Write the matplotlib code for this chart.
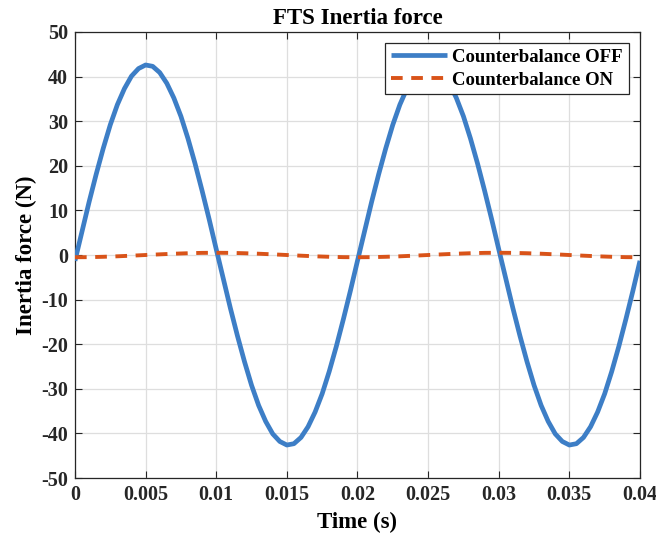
import matplotlib
matplotlib.use("Agg")
import matplotlib.pyplot as plt
import numpy as np

plt.rcParams['font.family'] = ['Liberation Serif', 'DejaVu Serif']
plt.rcParams['font.weight'] = 'bold'
plt.rcParams['axes.unicode_minus'] = False

title = "FTS Inertia force"
xlabel = "Time (s)"
ylabel = "Inertia force (N)"
series_names = ["Counterbalance OFF", "Counterbalance ON"]

# Counterbalance OFF, sampled every 0.0005 s
t_off = [i * 0.0005 for i in range(81)]
f_off = [-1.3, 5.3, 11.9, 18.1, 23.9, 29.2, 33.7, 37.3, 40.1, 41.8,
         42.6, 42.3, 40.9, 38.5, 35.2, 31.1, 26.1, 20.5, 14.4, 8.0,
         1.3, -5.3, -11.9, -18.1, -23.9, -29.2, -33.7, -37.3, -40.1, -41.8,
         -42.6, -42.3, -40.9, -38.5, -35.2, -31.1, -26.1, -20.5, -14.4, -8.0,
         -1.3, 5.3, 11.9, 18.1, 23.9, 29.2, 33.7, 37.3, 40.1, 41.8,
         42.6, 42.3, 40.9, 38.5, 35.2, 31.1, 26.1, 20.5, 14.4, 8.0,
         1.3, -5.3, -11.9, -18.1, -23.9, -29.2, -33.7, -37.3, -40.1, -41.8,
         -42.6, -42.3, -40.9, -38.5, -35.2, -31.1, -26.1, -20.5, -14.4, -8.0,
         -1.3]

# Counterbalance ON, sampled every 0.001 s
t_on = [i * 0.001 for i in range(41)]
f_on = [-0.50, -0.48, -0.40, -0.29, -0.15, 0.00, 0.15, 0.29, 0.40, 0.48,
        0.50, 0.48, 0.40, 0.29, 0.15, 0.00, -0.15, -0.29, -0.40, -0.48,
        -0.50, -0.48, -0.40, -0.29, -0.15, 0.00, 0.15, 0.29, 0.40, 0.48,
        0.50, 0.48, 0.40, 0.29, 0.15, 0.00, -0.15, -0.29, -0.40, -0.48,
        -0.50]

xticks = [0, 0.005, 0.01, 0.015, 0.02, 0.025, 0.03, 0.035, 0.04]
xticklabels = ["0", "0.005", "0.01", "0.015", "0.02", "0.025", "0.03", "0.035", "0.04"]
yticks = [-50, -40, -30, -20, -10, 0, 10, 20, 30, 40, 50]

fig = plt.figure(figsize=(6.56, 5.42), dpi=100)
ax = fig.add_axes([0.1143, 0.118, 0.8613, 0.823])

ax.plot(t_off, f_off, color='#3d7ec6', lw=3.4, label=series_names[0], zorder=3,
        solid_joinstyle='round', solid_capstyle='butt')
ax.plot(t_on, f_on, color='#d95319', lw=2.8, ls=(0, (3, 2.2)), label=series_names[1], zorder=3)

ax.set_xlim(0, 0.04)
ax.set_ylim(-50, 50)
ax.set_xticks(xticks)
ax.set_xticklabels(xticklabels)
ax.set_yticks(yticks)
ax.tick_params(direction='in', top=True, right=True, labelsize=14.5, length=5, width=0.8, color='#262626', pad=5)
for lab in ax.get_xticklabels() + ax.get_yticklabels():
    lab.set_fontweight('bold')
    lab.set_color('#262626')
ax.grid(True, color='#dedede', lw=0.9, zorder=0)
ax.set_axisbelow(True)
for s in ax.spines.values():
    s.set_color('#262626')
    s.set_linewidth(0.9)

ax.set_title(title, fontsize=16.5, fontweight='bold', pad=6)
ax.set_xlabel(xlabel, fontsize=16.5, fontweight='bold', labelpad=5)
ax.set_ylabel(ylabel, fontsize=16.5, fontweight='bold', labelpad=3)

leg = ax.legend(loc='upper right', prop={'weight': 'bold', 'size': 13.5},
                frameon=True, fancybox=False, edgecolor='#262626', framealpha=1,
                handlelength=3.0, borderpad=0.3, labelspacing=0.3, handletextpad=0.3,
                borderaxespad=0.6)
leg.get_frame().set_linewidth(0.9)

fig.savefig("out.png", dpi=100)
